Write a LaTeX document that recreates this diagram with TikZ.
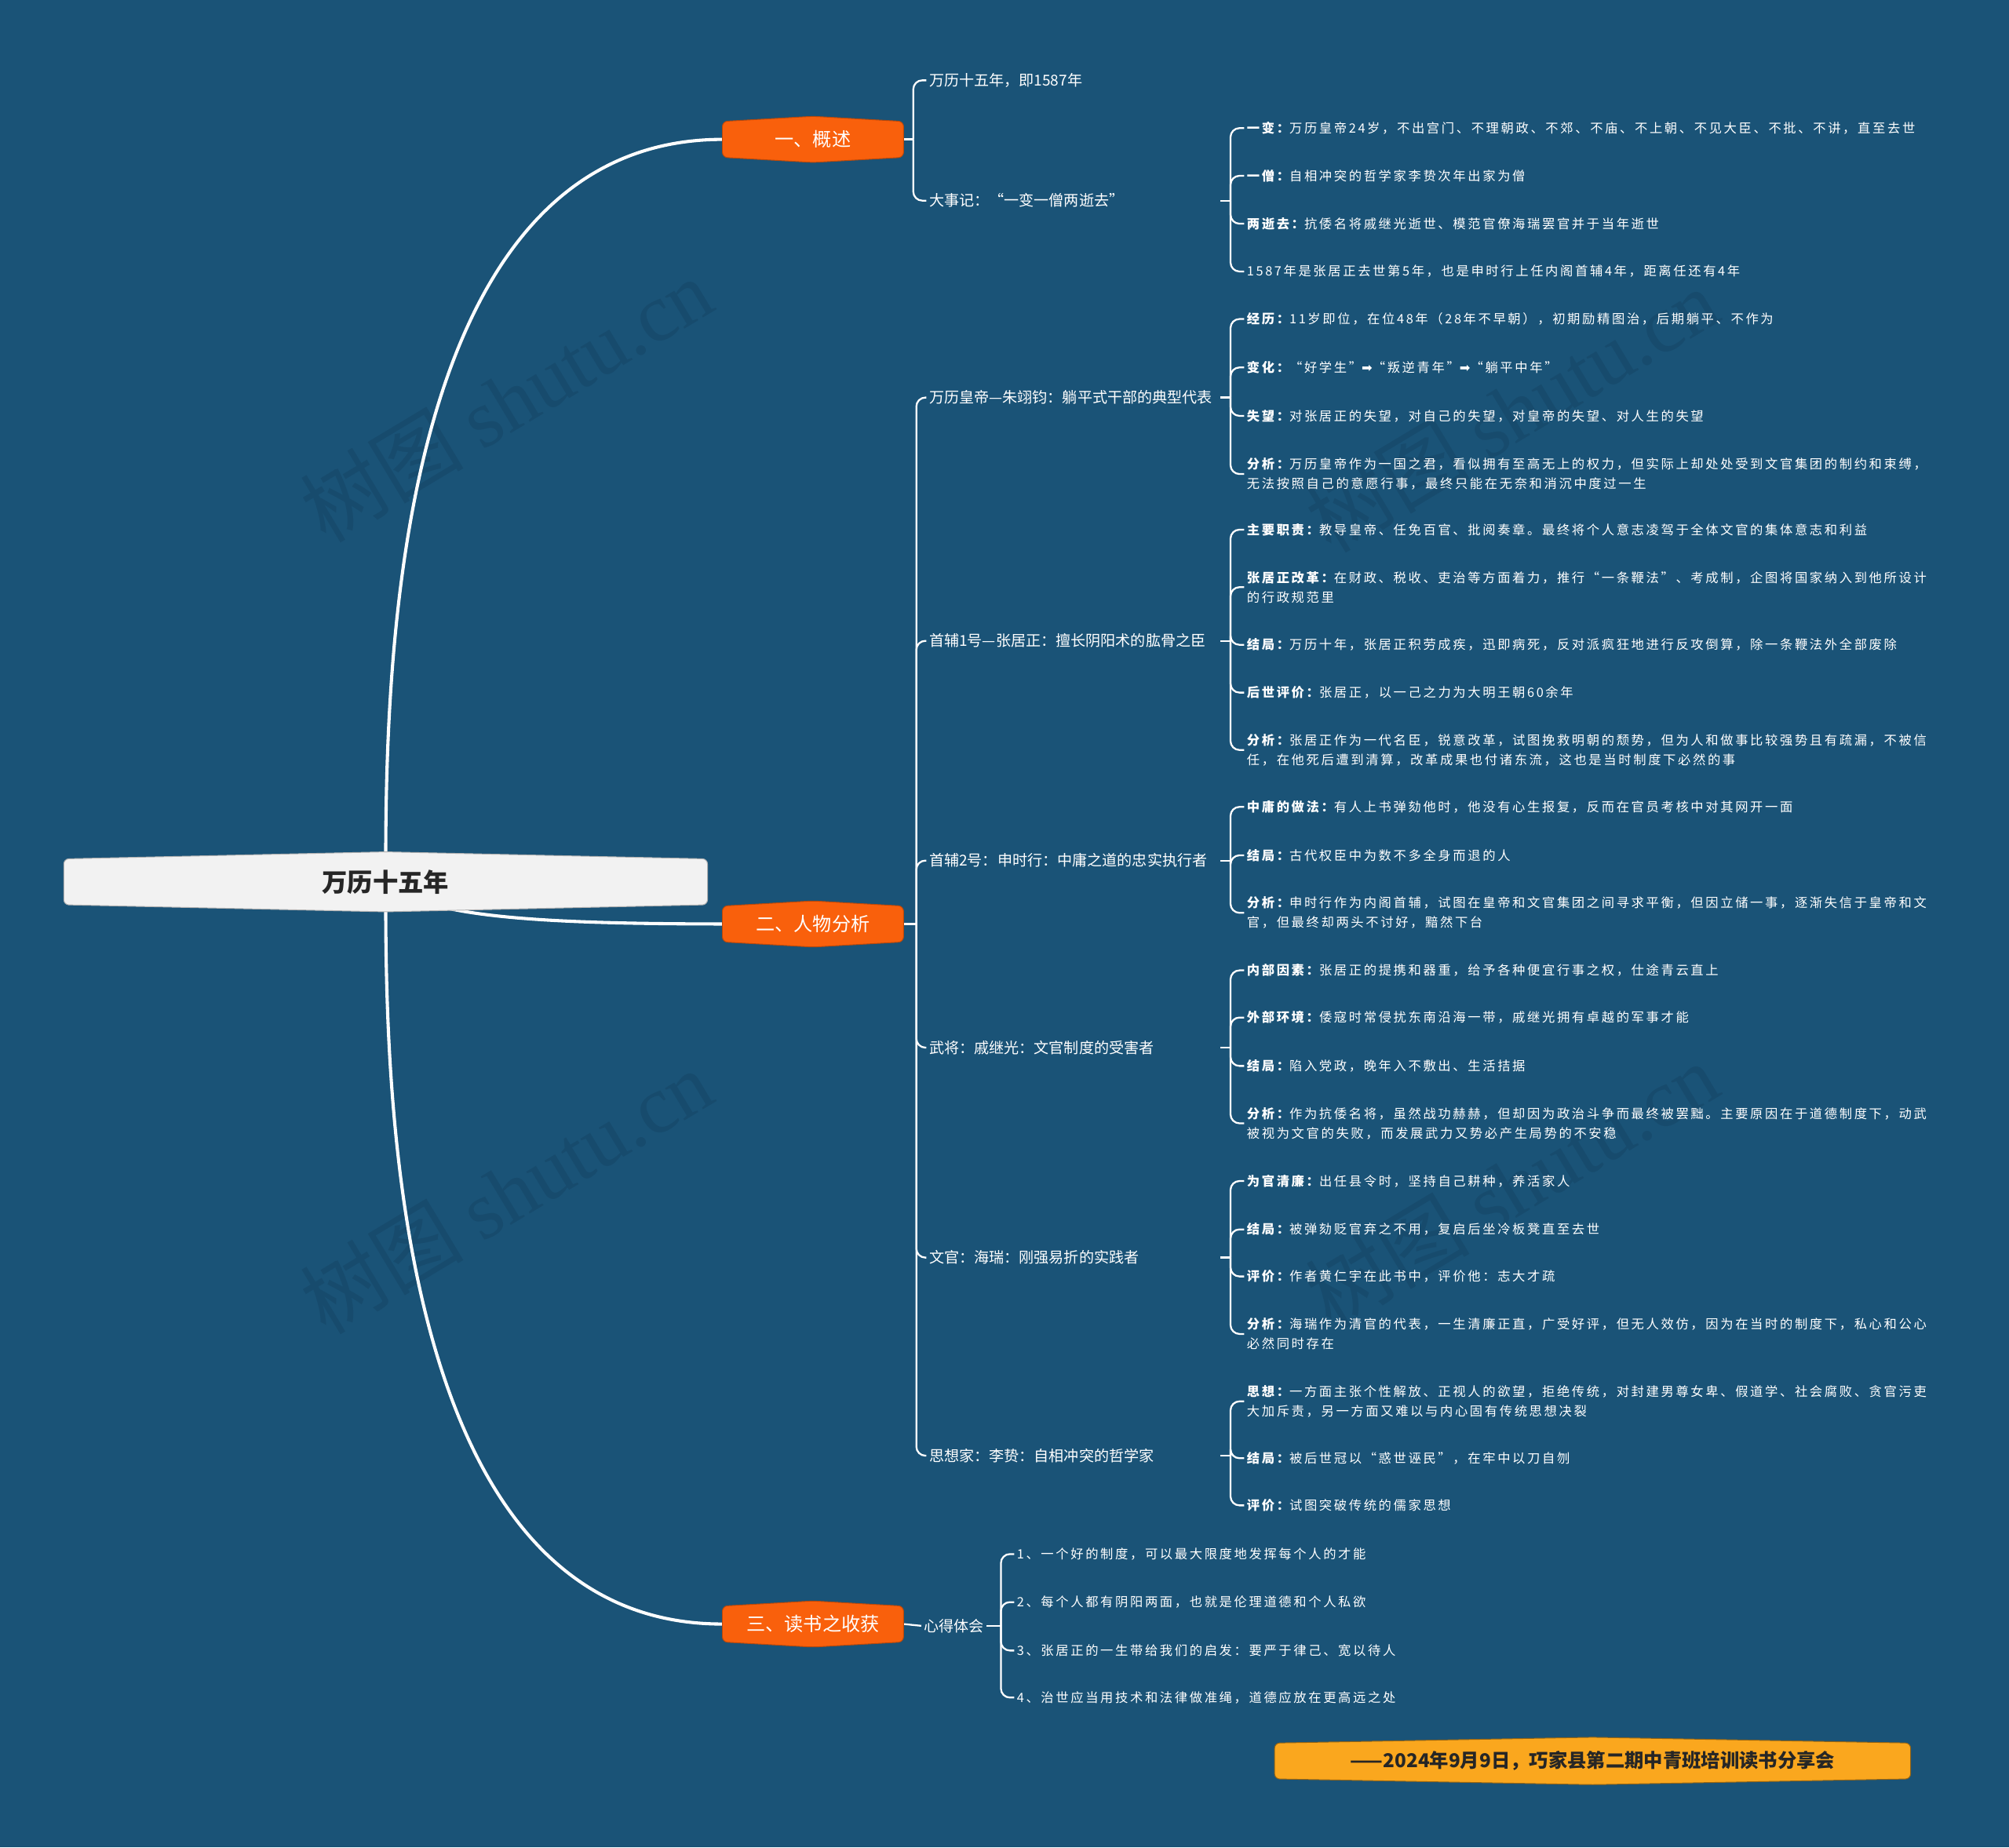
\documentclass[tikz,border=0pt]{standalone}
\usepackage{fontspec}
\setmainfont{Noto Sans CJK SC}
\newfontfamily\lthreefont[LetterSpace=16]{Noto Sans CJK SC}
\newfontfamily\arrowfont{DejaVu Sans}
\newfontfamily\wmfont{Liberation Serif}
\usetikzlibrary{backgrounds,calc}
\definecolor{bgblue}{RGB}{26,83,119}
\definecolor{topicorange}{RGB}{249,96,12}
\definecolor{footeryellow}{RGB}{250,167,30}
\definecolor{rootfill}{RGB}{242,242,242}
\definecolor{roottext}{RGB}{38,38,38}
\definecolor{wmblue}{RGB}{23,75,109}
\newcommand\keyw[1]{{\bfseries #1}}
\newcommand\hexfill[4]{%
  \filldraw[fill=#3, draw=#4, line width=0.6pt, rounded corners=4pt]
    (#1.north west) -- ($(#1.north)+(0,-#2)$) -- (#1.north east)
    -- (#1.south east) -- ($(#1.south)+(0,#2)$) -- (#1.south west) -- cycle;}
\begin{document}
\begin{tikzpicture}[x=1pt,y=-1pt,
  root/.style={minimum width=502pt, minimum height=35.4pt, inner sep=0pt, text=roottext, font=\fontsize{19.8}{22}\selectfont\bfseries},
  topic/.style={minimum width=141pt, minimum height=27.6pt, inner sep=0pt, text=white, font=\fontsize{14.8}{17}\selectfont},
  footer/.style={minimum width=496pt, minimum height=27.6pt, inner sep=0pt, text=roottext, font=\fontsize{14.9}{17}\selectfont\bfseries},
  lvltwo/.style={anchor=west, inner xsep=2pt, inner ysep=1pt, text width=225pt, align=left, text=white, font=\fontsize{11.7}{14}\selectfont},
  lvltwofree/.style={anchor=west, inner xsep=2pt, inner ysep=1pt, text=white, font=\fontsize{11.7}{14}\selectfont},
  lvlthree/.style={anchor=west, inner xsep=2pt, inner ysep=1pt, align=left, text=white, font=\lthreefont\fontsize{10}{15.3}\selectfont},
  trunk/.style={draw=white, line width=2.5pt},
  brace/.style={draw=white, line width=1.4pt, rounded corners=7pt},
  tick/.style={draw=white, line width=1.4pt},
  wm/.style={rotate=31, text=wmblue, font=\fontsize{64}{68}\selectfont}
]
\useasboundingbox (0,0) rectangle (1568,1442);

% root and topics
\node[root] (root) at (301,688.3) {万历十五年};
\node[topic] (t1) at (634.5,108.8) {一、概述};
\node[topic] (t2) at (634.5,721.2) {二、人物分析};
\node[topic] (t3) at (634.5,1267.6) {三、读书之收获};
\node[footer] (ft) at (1243,1374.5) {——2024年9月9日，巧家县第二期中青班培训读书分享会};

% level two
\node[lvltwo] (a1) at (723,62.7) {万历十五年，即1587年};
\node[lvltwo] (a2) at (723,156.6) {大事记：“一变一僧两逝去”};
\node[lvltwo] (b1) at (723,310.3) {万历皇帝—朱翊钧：躺平式干部的典型代表};
\node[lvltwo] (b2) at (723,500.2) {首辅1号—张居正：擅长阴阳术的肱骨之臣};
\node[lvltwo] (b3) at (723,671.7) {首辅2号：申时行：中庸之道的忠实执行者};
\node[lvltwo] (b4) at (723,817.7) {武将：戚继光：文官制度的受害者};
\node[lvltwo] (b5) at (723,981.6) {文官：海瑞：刚强易折的实践者};
\node[lvltwo] (b6) at (723,1136.2) {思想家：李贽：自相冲突的哲学家};
\node[lvltwofree] (c1) at (719,1269) {心得体会};

% level three: 大事记
\node[lvlthree] (d1) at (971,100) {\keyw{一变：}万历皇帝24岁，不出宫门、不理朝政、不郊、不庙、不上朝、不见大臣、不批、不讲，直至去世};
\node[lvlthree] (d2) at (971,137.2) {\keyw{一僧：}自相冲突的哲学家李贽次年出家为僧};
\node[lvlthree] (d3) at (971,174.6) {\keyw{两逝去：}抗倭名将戚继光逝世、模范官僚海瑞罢官并于当年逝世};
\node[lvlthree] (d4) at (971,211.9) {1587年是张居正去世第5年，也是申时行上任内阁首辅4年，距离任还有4年};

% 万历皇帝
\node[lvlthree] (e1) at (971,249) {\keyw{经历：}11岁即位，在位48年（28年不早朝），初期励精图治，后期躺平、不作为};
\node[lvlthree] (e2) at (971,286.8) {\keyw{变化：}“好学生”{\arrowfont ➡}“叛逆青年”{\arrowfont ➡}“躺平中年”};
\node[lvlthree] (e3) at (971,324.6) {\keyw{失望：}对张居正的失望，对自己的失望，对皇帝的失望、对人生的失望};
\node[lvlthree] (e4) at (971,370) {\keyw{分析：}万历皇帝作为一国之君，看似拥有至高无上的权力，但实际上却处处受到文官集团的制约和束缚，\\无法按照自己的意愿行事，最终只能在无奈和消沉中度过一生};

% 张居正
\node[lvlthree] (f1) at (971,413.4) {\keyw{主要职责：}教导皇帝、任免百官、批阅奏章。最终将个人意志凌驾于全体文官的集体意志和利益};
\node[lvlthree] (f2) at (971,458.3) {\keyw{张居正改革：}在财政、税收、吏治等方面着力，推行“一条鞭法”、考成制，企图将国家纳入到他所设计\\的行政规范里};
\node[lvlthree] (f3) at (971,503.3) {\keyw{结局：}万历十年，张居正积劳成疾，迅即病死，反对派疯狂地进行反攻倒算，除一条鞭法外全部废除};
\node[lvlthree] (f4) at (971,540.6) {\keyw{后世评价：}张居正，以一己之力为大明王朝60余年};
\node[lvlthree] (f5) at (971,585.4) {\keyw{分析：}张居正作为一代名臣，锐意改革，试图挽救明朝的颓势，但为人和做事比较强势且有疏漏，不被信\\任，在他死后遭到清算，改革成果也付诸东流，这也是当时制度下必然的事};

% 申时行
\node[lvlthree] (g1) at (971,629.8) {\keyw{中庸的做法：}有人上书弹劾他时，他没有心生报复，反而在官员考核中对其网开一面};
\node[lvlthree] (g2) at (971,667.6) {\keyw{结局：}古代权臣中为数不多全身而退的人};
\node[lvlthree] (g3) at (971,712.5) {\keyw{分析：}申时行作为内阁首辅，试图在皇帝和文官集团之间寻求平衡，但因立储一事，逐渐失信于皇帝和文\\官，但最终却两头不讨好，黯然下台};

% 戚继光
\node[lvlthree] (h1) at (971,757.4) {\keyw{内部因素：}张居正的提携和器重，给予各种便宜行事之权，仕途青云直上};
\node[lvlthree] (h2) at (971,794.2) {\keyw{外部环境：}倭寇时常侵扰东南沿海一带，戚继光拥有卓越的军事才能};
\node[lvlthree] (h3) at (971,832) {\keyw{结局：}陷入党政，晚年入不敷出、生活拮据};
\node[lvlthree] (h4) at (971,876.8) {\keyw{分析：}作为抗倭名将，虽然战功赫赫，但却因为政治斗争而最终被罢黜。主要原因在于道德制度下，动武\\被视为文官的失败，而发展武力又势必产生局势的不安稳};

% 海瑞
\node[lvlthree] (i1) at (971,921.8) {\keyw{为官清廉：}出任县令时，坚持自己耕种，养活家人};
\node[lvlthree] (i2) at (971,959.6) {\keyw{结局：}被弹劾贬官弃之不用，复启后坐冷板凳直至去世};
\node[lvlthree] (i3) at (971,996.3) {\keyw{评价：}作者黄仁宇在此书中，评价他：志大才疏};
\node[lvlthree] (i4) at (971,1041.2) {\keyw{分析：}海瑞作为清官的代表，一生清廉正直，广受好评，但无人效仿，因为在当时的制度下，私心和公心\\必然同时存在};

% 李贽
\node[lvlthree] (j1) at (971,1093.8) {\keyw{思想：}一方面主张个性解放、正视人的欲望，拒绝传统，对封建男尊女卑、假道学、社会腐败、贪官污吏\\大加斥责，另一方面又难以与内心固有传统思想决裂};
\node[lvlthree] (j2) at (971,1138.2) {\keyw{结局：}被后世冠以“惑世诬民”，在牢中以刀自刎};
\node[lvlthree] (j3) at (971,1175) {\keyw{评价：}试图突破传统的儒家思想};

% 心得体会
\node[lvlthree] (k1) at (791.5,1213) {1、一个好的制度，可以最大限度地发挥每个人的才能};
\node[lvlthree] (k2) at (791.5,1250.5) {2、每个人都有阴阳两面，也就是伦理道德和个人私欲};
\node[lvlthree] (k3) at (791.5,1288.3) {3、张居正的一生带给我们的启发：要严于律己、宽以待人};
\node[lvlthree] (k4) at (791.5,1325) {4、治世应当用技术和法律做准绳，道德应放在更高远之处};

% brace coordinates
\coordinate (bt1) at ($(t1.east)+(7.6,0)$);
\coordinate (bt2) at ($(t2.east)+(10,0)$);
\coordinate (ba2) at ($(a2.east)+(8,0)$);
\coordinate (bb1) at ($(b1.east)+(8,0)$);
\coordinate (bb2) at ($(b2.east)+(8,0)$);
\coordinate (bb3) at ($(b3.east)+(8,0)$);
\coordinate (bb4) at ($(b4.east)+(8,0)$);
\coordinate (bb5) at ($(b5.east)+(8,0)$);
\coordinate (bb6) at ($(b6.east)+(8,0)$);
\coordinate (bc1) at ($(c1.east)+(11,0)$);

\begin{scope}[on background layer]
  \fill[bgblue] (0,0) rectangle (1568,1442);
  \node[wm] (wm1) at (395,312) {树图 {\wmfont shutu.cn}};
  \node[wm] (wm2) at (395,930) {树图 {\wmfont shutu.cn}};
  \node[wm] (wm4) at (1180,320) {树图 {\wmfont shutu.cn}};
  \node[wm] (wm5) at (1180,925) {树图 {\wmfont shutu.cn}};
  % trunks
  \draw[trunk] (root.center) .. controls (301,544) and (301,109) .. (t1.west);
  \draw[trunk] (root.center) .. controls (330,716) and (420,721) .. (t2.west);
  \draw[trunk] (root.center) .. controls (301,832) and (301,1268) .. (t3.west);
  \draw[tick] (t3.east) -- (c1.west);
  % level one braces
  \draw[tick] (t1.east) -- (bt1);
  \foreach \n in {a1,a2} \draw[brace] (bt1) |- (\n.west);
  \draw[tick] (t2.east) -- (bt2);
  \foreach \n in {b1,b2,b3,b4,b5,b6} \draw[brace] (bt2) |- (\n.west);
  % level two braces
  \draw[tick] (a2.east) -- (ba2);
  \foreach \n in {d1,d2,d3,d4} \draw[brace] (ba2) |- (\n.west);
  \draw[tick] (b1.east) -- (bb1);
  \foreach \n in {e1,e2,e3,e4} \draw[brace] (bb1) |- (\n.west);
  \draw[tick] (b2.east) -- (bb2);
  \foreach \n in {f1,f2,f3,f4,f5} \draw[brace] (bb2) |- (\n.west);
  \draw[tick] (b3.east) -- (bb3);
  \foreach \n in {g1,g2,g3} \draw[brace] (bb3) |- (\n.west);
  \draw[tick] (b4.east) -- (bb4);
  \foreach \n in {h1,h2,h3,h4} \draw[brace] (bb4) |- (\n.west);
  \draw[tick] (b5.east) -- (bb5);
  \foreach \n in {i1,i2,i3,i4} \draw[brace] (bb5) |- (\n.west);
  \draw[tick] (b6.east) -- (bb6);
  \foreach \n in {j1,j2,j3} \draw[brace] (bb6) |- (\n.west);
  \draw[tick] (c1.east) -- (bc1);
  \foreach \n in {k1,k2,k3,k4} \draw[brace] (bc1) |- (\n.west);
  % node bodies
  \hexfill{root}{5.5}{rootfill}{black!30}
  \hexfill{t1}{4}{topicorange}{topicorange!75!black}
  \hexfill{t2}{4}{topicorange}{topicorange!75!black}
  \hexfill{t3}{4}{topicorange}{topicorange!75!black}
  \hexfill{ft}{4.5}{footeryellow}{footeryellow!60!black}
\end{scope}
\end{tikzpicture}
\end{document}
